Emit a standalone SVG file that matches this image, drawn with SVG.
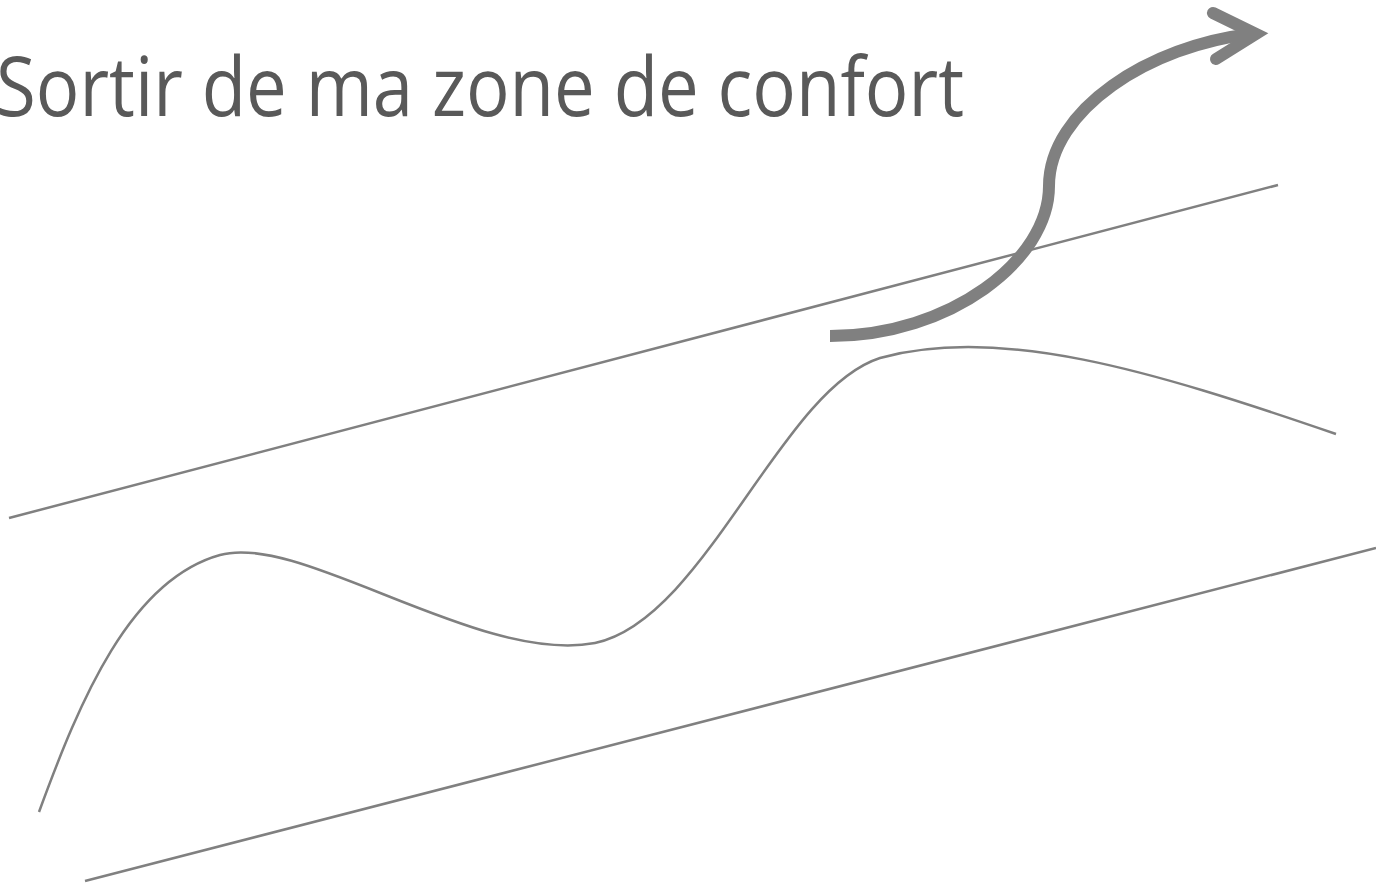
<svg xmlns="http://www.w3.org/2000/svg" width="1376" height="885" viewBox="0 0 1376 885">
<style>
.thin{fill:none;stroke:#808080;stroke-width:2.5}
.arrow{fill:none;stroke:#808080;stroke-width:12}
.title{font-family:"Open Sans","Noto Sans",sans-serif;font-size:82px;fill:#595959}
</style>
<rect width="1376" height="885" fill="#ffffff"/>
<g id="title"><text class="title" x="-4" y="116" textLength="968" lengthAdjust="spacingAndGlyphs">Sortir de ma zone de confort</text></g>
<g id="connectors">
<line class="thin" x1="9" y1="518" x2="1278" y2="185"/>
<line class="thin" x1="85" y1="881" x2="1376" y2="548"/>
<path class="thin" d="M39,812 C80,700 130,580 220,555 C300,532 480,665 595,643 C705,620 780,390 880,358 C1000,325 1150,370 1336,434"/>
<path class="arrow" d="M830,336 C950,336 1049,260 1049,186 C1049,110 1150,45 1252,34"/>
<polyline class="arrow" points="1213,13 1256,34 1216,59" stroke-linecap="round" stroke-linejoin="miter"/>
</g>
</svg>
